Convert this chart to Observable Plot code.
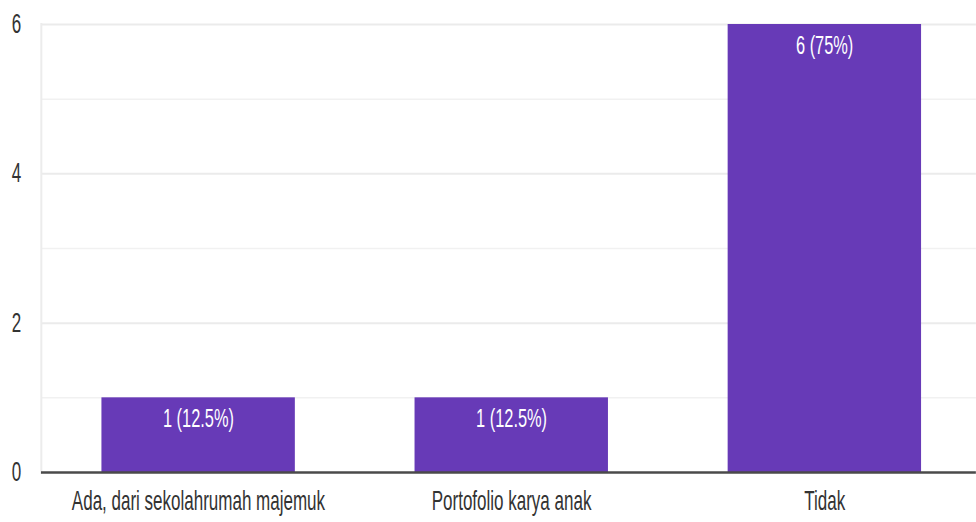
<!DOCTYPE html>
<html><head><meta charset="utf-8">
<script src="https://cdn.jsdelivr.net/npm/d3@7"></script>
<script src="https://cdn.jsdelivr.net/npm/@observablehq/plot@0.6"></script>
<style>
html,body{margin:0;padding:0;background:#fff;overflow:hidden}
#chart{width:976px;height:522px;overflow:hidden;position:relative}
#chart svg{transform-origin:0 0;display:block;max-width:none !important;height:522px !important}
</style></head><body><div id="chart"></div>
<script>
const categories = ["Ada, dari sekolahrumah majemuk", "Portofolio karya anak", "Tidak"];
const counts = [1, 1, 6];
const barLabels = ["1 (12.5%)", "1 (12.5%)", "6 (75%)"];
const majorTicks = [0, 2, 4, 6];
const minorTicks = [1, 3, 5];

const S = 0.63;            // horizontal squeeze of the reference rendering
const W = 976 / S;
const data = categories.map((c, i) => ({cat: c, n: counts[i], label: barLabels[i]}));

const plot = Plot.plot({
  width: W,
  height: 522,
  marginTop: 24,
  marginBottom: 50,
  marginLeft: 41 / S,
  marginRight: 0,
  style: {fontFamily: "'Liberation Sans', Arial, sans-serif", color: "#333", background: "#fff"},
  x: {domain: categories, range: [41 / S, 982 / S], paddingInner: 0.382, paddingOuter: 0.191, label: null},
  y: {domain: [0, 6], label: null},
  marks: [
    Plot.ruleY(minorTicks, {stroke: "#f1f1f1", strokeWidth: 1.5}),
    Plot.ruleY(majorTicks.filter(d => d > 0), {stroke: "#ebebeb", strokeWidth: 2}),
    Plot.frame({anchor: "left", stroke: "#ececec", strokeWidth: 2 / S}),
    Plot.barY(data, {x: "cat", y: "n", fill: "#673ab7"}),
    Plot.ruleY([0], {stroke: "#4a4a4a", strokeWidth: 2.5}),
    Plot.text(data, {x: "cat", y: "n", text: "label", dy: 21, fill: "white", fontSize: 26, lineAnchor: "middle"}),
    Plot.axisY({ticks: majorTicks, tickFormat: d3.format("d"), tickSize: 0, tickPadding: 20 / S, fontSize: 27, label: null}),
    Plot.axisX({tickSize: 0, tickPadding: 18, fontSize: 27, label: null})
  ]
});
plot.style.transform = `scaleX(${S})`;
document.getElementById("chart").appendChild(plot);
</script></body></html>
